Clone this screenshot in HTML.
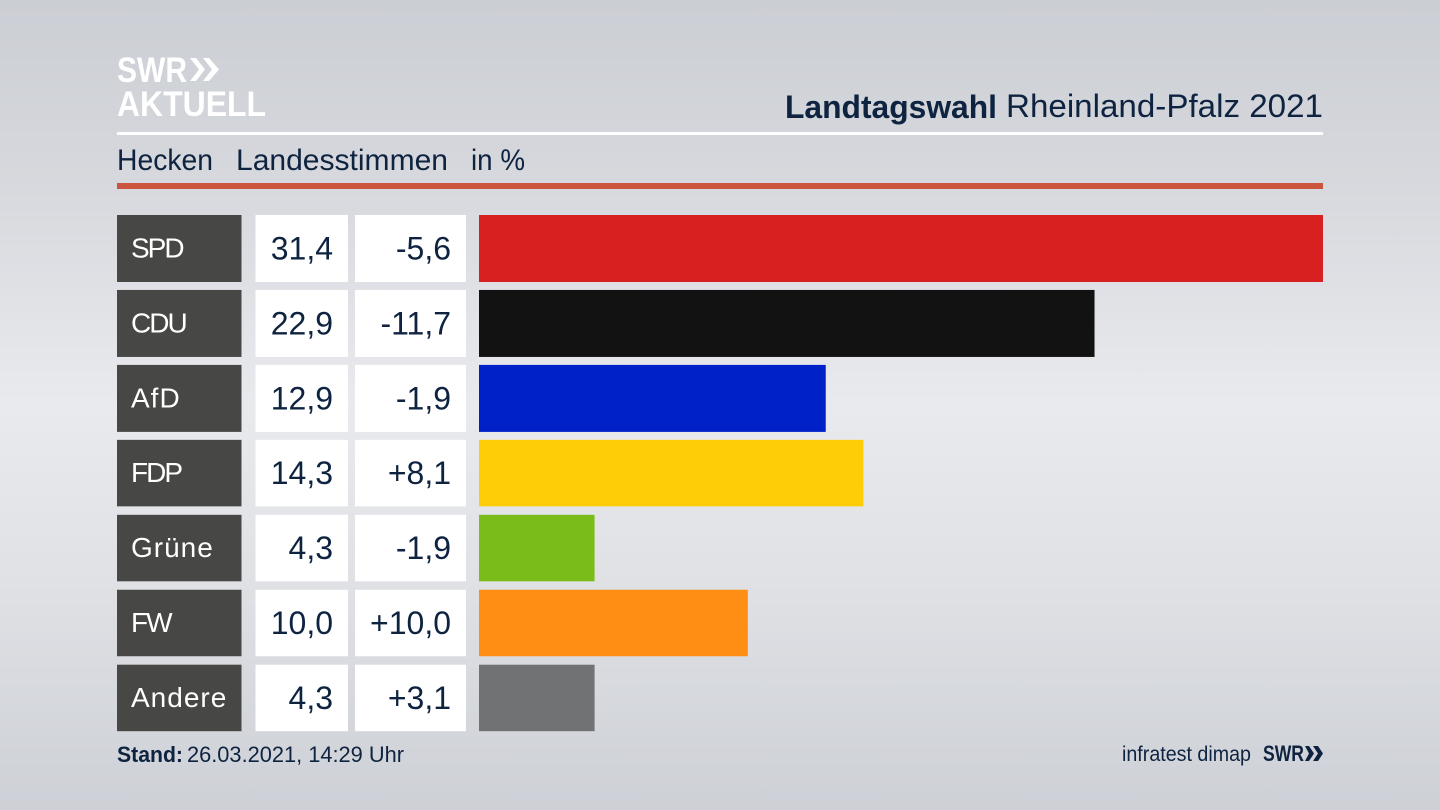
<!DOCTYPE html>
<html lang="de">
<head>
<meta charset="utf-8">
<title>Landtagswahl Rheinland-Pfalz 2021 – Hecken</title>
<style>
  html, body { margin: 0; padding: 0; width: 1440px; height: 810px; overflow: hidden; }
  body { background: linear-gradient(180deg, #cbced4 0%, #d6d8dd 22%, #e9eaee 50%, #dfe1e5 72%, #cdd0d6 100%); }
  svg { display: block; position: absolute; left: 0; top: 0; }
  text { font-family: "Liberation Sans", sans-serif; fill: #0e2340; }
  .party-box { fill: #474745; }
  .value-box { fill: #ffffff; }
  .party-label { fill: #ffffff; font-size: 28px; }
  .party-label-caps { letter-spacing: -2px; }
  .party-label-mixed { letter-spacing: 1px; }
  .value-label { font-size: 32px; text-anchor: end; }
  .bar-0 { fill: #d7201f; }
  .bar-1 { fill: #121212; }
  .bar-2 { fill: #0020c8; }
  .bar-3 { fill: #ffcd07; }
  .bar-4 { fill: #7abd1a; }
  .bar-5 { fill: #ff8e14; }
  .bar-6 { fill: #717274; }
</style>
</head>
<body>
<svg id="chart" width="1440" height="810" viewBox="0 0 1440 810" xmlns="http://www.w3.org/2000/svg">
  <g>
    <text x="117" y="82" font-size="35" font-weight="700" style="fill:#fff" textLength="70" lengthAdjust="spacingAndGlyphs">SWR</text>
    <path d="M190 58 L196 58 L205 69.5 L196 81 L190 81 L199 69.5 Z M203 58 L209 58 L219 69.5 L209 81 L203 81 L212 69.5 Z" fill="#fff"/>
    <text x="117" y="116" font-size="35" font-weight="700" style="fill:#fff" textLength="149" lengthAdjust="spacingAndGlyphs">AKTUELL</text>
  </g>
  <text x="785" y="118" font-size="32" font-weight="700" textLength="212" lengthAdjust="spacingAndGlyphs">Landtagswahl</text>
  <text x="1006" y="117" font-size="32" textLength="317" lengthAdjust="spacingAndGlyphs">Rheinland-Pfalz 2021</text>
  <rect x="117" y="132" width="1206" height="3" fill="#ffffff"/>
  <text x="117" y="170" font-size="30" textLength="96" lengthAdjust="spacingAndGlyphs">Hecken</text>
  <text x="236" y="170" font-size="30" textLength="212" lengthAdjust="spacingAndGlyphs">Landesstimmen</text>
  <text x="471" y="170" font-size="30" textLength="54" lengthAdjust="spacingAndGlyphs">in %</text>
  <rect x="117" y="183" width="1206" height="6" fill="#cb553c"/>
  <g id="rows"></g>
  <text x="117" y="762" font-size="22" font-weight="700" textLength="66" lengthAdjust="spacingAndGlyphs">Stand:</text>
  <text x="187" y="762" font-size="22" textLength="217" lengthAdjust="spacingAndGlyphs">26.03.2021, 14:29 Uhr</text>
  <text x="1122" y="761" font-size="21" textLength="129" lengthAdjust="spacingAndGlyphs">infratest dimap</text>
  <text x="1263" y="761" font-size="22" font-weight="700" textLength="41" lengthAdjust="spacingAndGlyphs">SWR</text>
  <path d="M1305 746 L1309 746 L1314 753.5 L1309 761 L1305 761 L1309 753.5 Z M1313 746 L1318 746 L1323 753.5 L1318 761 L1313 761 L1318 753.5 Z" fill="#0e2340"/>
</svg>
<script>
var parties = ['SPD', 'CDU', 'AfD', 'FDP', 'Grüne', 'FW', 'Andere'];
var shares = [31.4, 22.9, 12.9, 14.3, 4.3, 10.0, 4.3];
var changes = [-5.6, -11.7, -1.9, 8.1, -1.9, 10.0, 3.1];

var SVG_NS = 'http://www.w3.org/2000/svg';
var rowsGroup = document.getElementById('rows');
var BAR_LEFT = 479;
var BAR_RIGHT = 1323;
var maxShare = Math.max.apply(null, shares);

function xScale(value) {
  return (BAR_RIGHT - BAR_LEFT) * value / maxShare;
}
function rowTop(index) {
  return 215 + index * 74.95;
}
function rowHeight(index) {
  return index < 3 ? 67 : 66.5;
}
function formatShare(value) {
  return value.toFixed(1).replace('.', ',');
}
function formatChange(value) {
  return (value > 0 ? '+' : '') + value.toFixed(1).replace('.', ',');
}
function addRect(x, y, w, h, cls) {
  var r = document.createElementNS(SVG_NS, 'rect');
  r.setAttribute('x', x);
  r.setAttribute('y', y);
  r.setAttribute('width', w);
  r.setAttribute('height', h);
  r.setAttribute('class', cls);
  rowsGroup.appendChild(r);
  return r;
}
function addText(x, y, str, cls) {
  var t = document.createElementNS(SVG_NS, 'text');
  t.setAttribute('x', x);
  t.setAttribute('y', y);
  t.setAttribute('class', cls);
  t.textContent = str;
  rowsGroup.appendChild(t);
  return t;
}

parties.forEach(function (party, i) {
  var top = rowTop(i);
  var h = rowHeight(i);
  var base = top + h / 2 + 11;
  var labelVariant = party === party.toUpperCase() ? 'party-label-caps' : 'party-label-mixed';

  var partyBox = addRect(117, top, 124.5, h, 'party-box');
  
  

  var shareBox = addRect(255.5, top, 92.5, h, 'value-box');
  
  

  var changeBox = addRect(355, top, 111, h, 'value-box');
  
  

  var bar = addRect(BAR_LEFT, top, xScale(shares[i]), h, 'bar-' + i);
  
  

  var label = addText(131, base - 2, party, 'party-label ' + labelVariant);
  
  

  var shareLabel = addText(333, base, formatShare(shares[i]), 'value-label');
  
  

  var changeLabel = addText(451, base, formatChange(changes[i]), 'value-label');
  
  
});
</script>
</body>
</html>
